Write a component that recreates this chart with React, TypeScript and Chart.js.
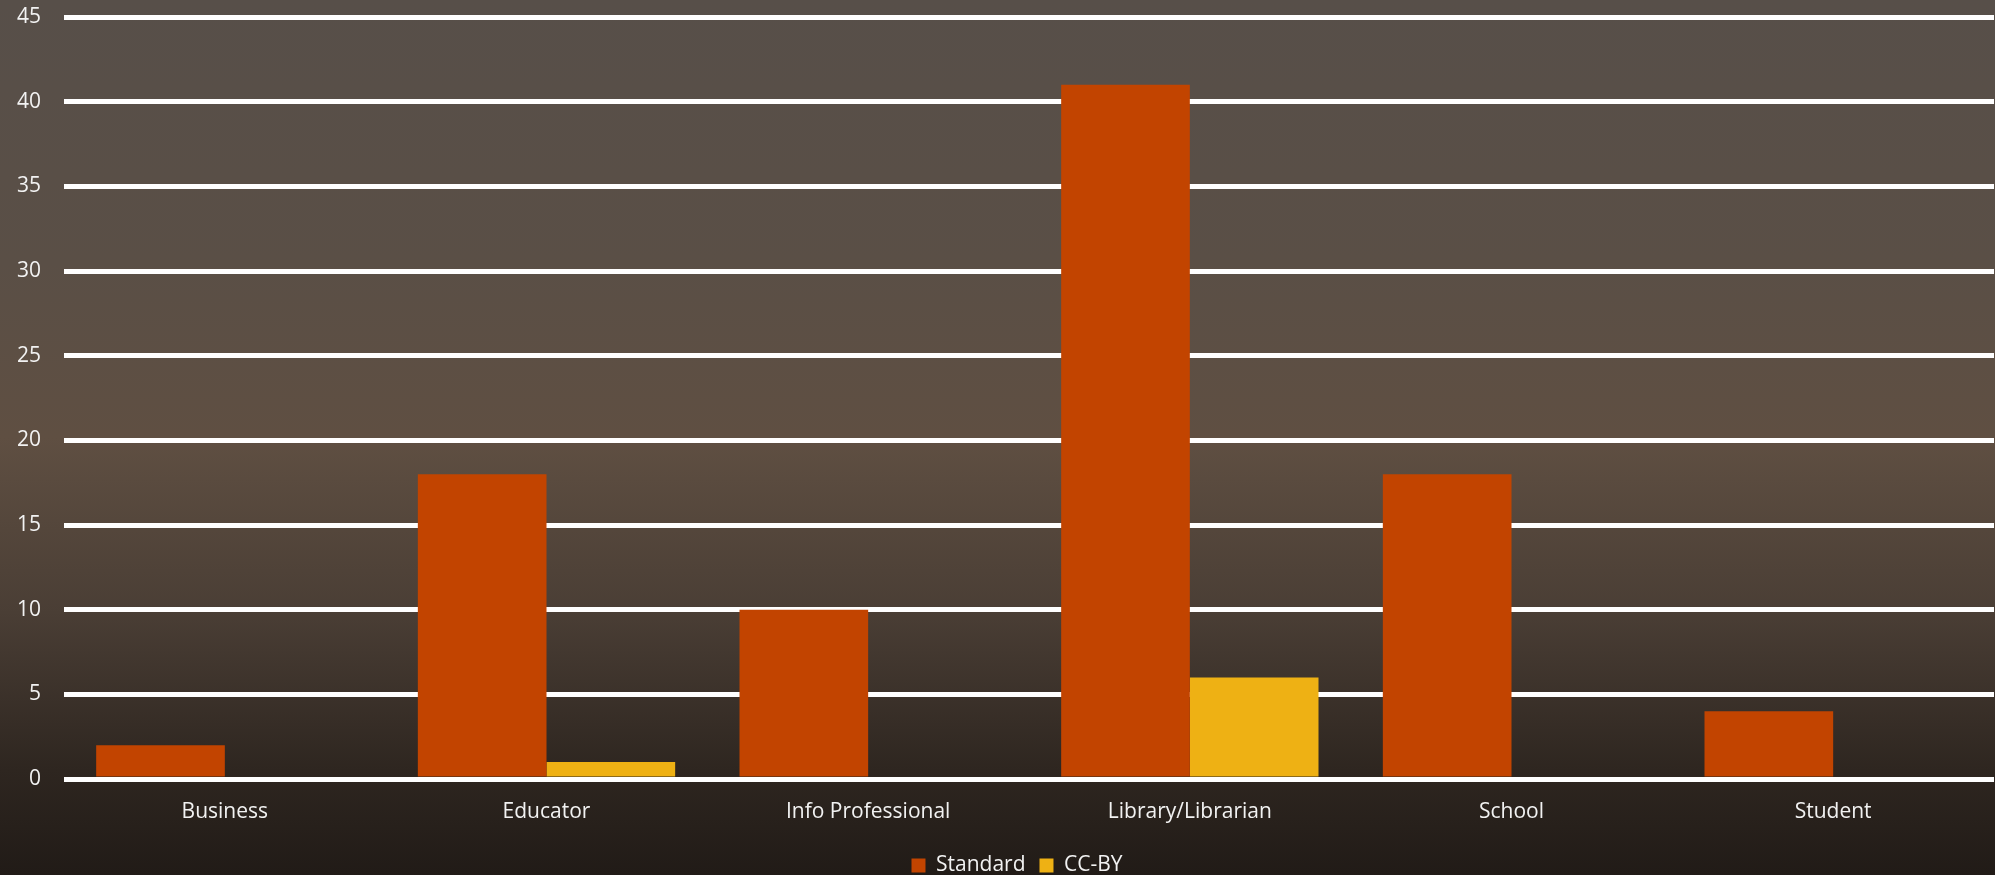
import React, { useEffect, useRef } from "react";
import { Chart, registerables } from "chart.js";

Chart.register(...registerables);

const categories = ["Business", "Educator", "Info Professional", "Library/Librarian", "School", "Student"];
const standardValues = [2, 18, 10, 41, 18, 4];
const ccbyValues = [0, 1, 0, 6, 0, 0];
const seriesNames = ["Standard", "CC-BY"];
const seriesColors = ["#c24400", "#eeb114"];

const FONT = "'Open Sans', 'Noto Sans', sans-serif";
const TEXT = "#f2f2f2";

const legendShift = {
  id: "legendShift",
  afterLayout(chart: any) {
    const lg = chart.legend;
    if (lg) {
      lg.left += 20;
      lg.right += 20;
    }
  },
};

export default function App() {
  const ref = useRef<HTMLCanvasElement | null>(null);
  useEffect(() => {
    document.body.style.margin = "0";
    const ctx = ref.current!;
    const chart = new Chart(ctx, {
      type: "bar",
      data: {
        labels: categories,
        datasets: [
          { label: seriesNames[0], data: standardValues, backgroundColor: seriesColors[0], borderWidth: 0 },
          { label: seriesNames[1], data: ccbyValues, backgroundColor: seriesColors[1], borderWidth: 0 },
        ],
      },
      plugins: [legendShift],
      options: {
        responsive: false,
        animation: false,
        layout: { padding: { top: 17, right: 1, left: 0, bottom: -11 } },
        datasets: { bar: { categoryPercentage: 0.8, barPercentage: 1.0 } },
        plugins: {
          legend: {
            position: "bottom",
            labels: {
              color: TEXT,
              font: { family: FONT, size: 21 },
              boxWidth: 14,
              boxHeight: 14,
              padding: 14,
            },
          },
          tooltip: { enabled: false },
        },
        scales: {
          x: {
            grid: { display: false, drawTicks: false },
            border: { display: false },
            ticks: { color: TEXT, font: { family: FONT, size: 21 }, padding: 20 },
            afterFit: (s: any) => { s.height = 62; s.paddingLeft = 0; s.paddingRight = 0; },
          },
          y: {
            min: 0,
            max: 45,
            ticks: { stepSize: 5, color: TEXT, font: { family: FONT, size: 21 }, padding: 23 },
            grid: { color: "#ffffff", lineWidth: 5, drawTicks: false },
            border: { display: false },
            afterFit: (s: any) => { s.width = 64; s.paddingTop = 0; s.paddingBottom = 0; },
          },
        },
      },
    });
    return () => chart.destroy();
  }, []);
  return (
    <div
      style={{
        position: "fixed",
        left: 0,
        top: 0,
        width: 1995,
        height: 875,
        background: "linear-gradient(to bottom, #574f49 0%, #5a4f46 30%, #5f4f42 50%, #4a3e35 70%, #2e2620 88%, #211b17 100%)",
      }}
    >
      <canvas ref={ref} width={1995} height={875} style={{ display: "block" }} />
    </div>
  );
}
